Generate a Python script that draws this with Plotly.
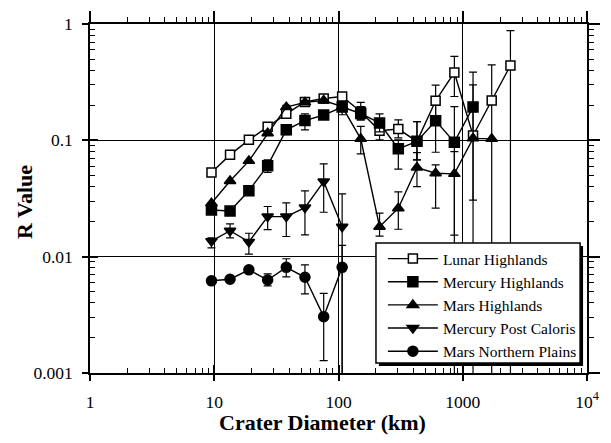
import plotly.graph_objects as go

# ---------------- data ----------------
diam = [9.5, 13.4, 19.0, 26.9, 38.0, 53.7, 76.0, 107, 151, 214, 303, 428, 605, 856, 1210, 1710, 2420]

lunar = [0.0528, 0.075, 0.101, 0.131, 0.169, 0.214, 0.229, 0.238, 0.176, 0.121, 0.125, 0.098, 0.219, 0.383, 0.110, 0.220, 0.440]
lunar_hi = [0.0528, 0.075, 0.101, 0.131, 0.175, 0.22, 0.235, 0.255, 0.212, 0.135, 0.150, 0.145, 0.298, 0.526, 0.386, 0.446, 0.876]
lunar_lo = [0.0528, 0.075, 0.101, 0.131, 0.163, 0.208, 0.222, 0.222, 0.150, 0.101, 0.105, 0.068, 0.15, 0.238, 0.0306, 0.0005, 0.0005]

merc = [0.0252, 0.0247, 0.0369, 0.0606, 0.123, 0.148, 0.165, 0.193, 0.170, 0.141, 0.0846, 0.098, 0.147, 0.0965, 0.193]
merc_hi = [0.0252, 0.0247, 0.039, 0.0679, 0.136, 0.169, 0.172, 0.215, 0.195, 0.169, 0.101, 0.145, 0.2, 0.195, 0.3]
merc_lo = [0.0252, 0.0247, 0.035, 0.0529, 0.112, 0.123, 0.158, 0.166, 0.150, 0.118, 0.0566, 0.068, 0.079, 0.0005, 0.0005]

mars = [0.0288, 0.0447, 0.0666, 0.115, 0.193, 0.212, 0.22, 0.195, 0.103, 0.0181, 0.0261, 0.0583, 0.0522, 0.0515, 0.104, 0.103]
mars_hi = [0.0288, 0.0447, 0.0666, 0.12, 0.2, 0.22, 0.225, 0.2, 0.132, 0.0237, 0.036, 0.0785, 0.0616, 0.08, 0.104, 0.103]
mars_lo = [0.0288, 0.0447, 0.0666, 0.11, 0.186, 0.205, 0.215, 0.19, 0.0765, 0.015, 0.0172, 0.040, 0.0261, 0.0153, 0.104, 0.103]

mpc = [0.0136, 0.0167, 0.0134, 0.0221, 0.0221, 0.0264, 0.0442, 0.0181]
mpc_hi = [0.0145, 0.0191, 0.0159, 0.027, 0.029, 0.0368, 0.0627, 0.0346]
mpc_lo = [0.0119, 0.0145, 0.0105, 0.0171, 0.0149, 0.0154, 0.0241, 0.0005]

mnp = [0.0062, 0.0064, 0.0077, 0.0063, 0.0081, 0.00665, 0.00305, 0.0081]
mnp_hi = [0.0062, 0.0064, 0.0081, 0.0071, 0.0096, 0.0085, 0.00484, 0.0125]
mnp_lo = [0.0062, 0.0064, 0.0073, 0.0056, 0.0067, 0.00478, 0.00128, 0.0005]

series_names = ["Lunar Highlands", "Mercury Highlands", "Mars Highlands",
                "Mercury Post Caloris", "Mars Northern Plains"]

x_tickvals = [1, 10, 100, 1000, 10000]
x_ticktext = ["1", "10", "100", "1000", "10<sup>4</sup>"]
y_tickvals = [0.001, 0.01, 0.1, 1]
y_ticktext = ["0.001", "0.01", "0.1", "1"]

x_title = "Crater Diameter (km)"
y_title = "R Value"

# ---------------- figure ----------------
FONT = "Liberation Serif"
W, H = 611, 443
ML, MR, MT, MB = 90, 17, 24, 70
PW, PH = W - ML - MR, H - MT - MB


def px2paper(px, py):
    return (px - ML) / PW, (H - MB - py) / PH


fig = go.Figure()

specs = [
    (lunar, lunar_hi, lunar_lo, "square", "white", 9),
    (merc, merc_hi, merc_lo, "square", "black", 10),
    (mars, mars_hi, mars_lo, "triangle-up", "black", 10),
    (mpc, mpc_hi, mpc_lo, "triangle-down", "black", 10),
    (mnp, mnp_hi, mnp_lo, "circle", "black", 10),
]

for name, (ys, hi, lo, sym, fill, msz) in zip(series_names, specs):
    xs = diam[:len(ys)]
    plus = [h - v for h, v in zip(hi, ys)]
    minus = [v - l for v, l in zip(ys, lo)]
    fig.add_trace(go.Scatter(
        x=xs, y=ys, name=name, mode="lines+markers",
        line=dict(color="black", width=1.4),
        marker=dict(symbol=sym, size=msz, color=fill,
                    line=dict(color="black", width=1.5)),
        error_y=dict(type="data", symmetric=False, array=plus, arrayminus=minus,
                     color="black", thickness=1.2, width=4),
    ))

minor_x = [m * 10 ** e for e in range(0, 4) for m in range(2, 10)]
minor_y = [m * 10 ** e for e in range(-3, 0) for m in range(2, 10)]

common = dict(showgrid=False, zeroline=False, color="black")

fig.update_layout(
    width=W, height=H,
    margin=dict(l=ML, r=MR, t=MT, b=MB),
    paper_bgcolor="white", plot_bgcolor="white",
    font=dict(family=FONT, color="black", size=17),
    showlegend=True,
    xaxis=dict(type="log", range=[0, 4], side="bottom",
               tickmode="array", tickvals=x_tickvals, ticktext=x_ticktext,
               ticks="inside", ticklen=8, tickwidth=1.5, tickcolor="black",
               minor=dict(tickmode="array", tickvals=minor_x, ticks="inside",
                          ticklen=5, tickwidth=1.2, tickcolor="black", showgrid=False),
               showline=True, linecolor="black", linewidth=1.5,
               showgrid=True, gridcolor="black", gridwidth=1.3, zeroline=False,
               tickfont=dict(family=FONT, size=17.5), ticklabelstandoff=12),
    yaxis=dict(type="log", range=[-3, 0], side="left",
               tickmode="array", tickvals=y_tickvals, ticktext=y_ticktext,
               ticks="inside", ticklen=8, tickwidth=1.5, tickcolor="black",
               minor=dict(tickmode="array", tickvals=minor_y, ticks="inside",
                          ticklen=5, tickwidth=1.2, tickcolor="black", showgrid=False),
               showline=True, linecolor="black", linewidth=1.5,
               showgrid=True, gridcolor="black", gridwidth=1.3, zeroline=False,
               tickfont=dict(family=FONT, size=17.5), ticklabelstandoff=12),
    xaxis2=dict(type="log", range=[0, 4], overlaying="x", anchor="y", side="bottom",
                tickmode="array", tickvals=x_tickvals, showticklabels=False,
                ticks="outside", ticklen=7, tickwidth=1.5, tickcolor="black",
                showline=False, **common),
    yaxis2=dict(type="log", range=[-3, 0], overlaying="y", anchor="x", side="left",
                tickmode="array", tickvals=y_tickvals, showticklabels=False,
                ticks="outside", ticklen=7, tickwidth=1.5, tickcolor="black",
                showline=False, **common),
    xaxis3=dict(type="log", range=[0, 4], overlaying="x", anchor="y", side="top",
                tickmode="array", tickvals=x_tickvals, showticklabels=False,
                ticks="outside", ticklen=11, tickwidth=1.5, tickcolor="black",
                minor=dict(tickmode="array", tickvals=minor_x, ticks="outside",
                           ticklen=5, tickwidth=1.2, tickcolor="black"),
                showline=True, linecolor="black", linewidth=1.5, **common),
    yaxis3=dict(type="log", range=[-3, 0], overlaying="y", anchor="x", side="right",
                tickmode="array", tickvals=y_tickvals, showticklabels=False,
                ticks="outside", ticklen=11, tickwidth=1.5, tickcolor="black",
                minor=dict(tickmode="array", tickvals=minor_y, ticks="outside",
                           ticklen=5, tickwidth=1.2, tickcolor="black"),
                showline=True, linecolor="black", linewidth=1.5, **common),
    legend=dict(x=px2paper(387, 242)[0], y=px2paper(387, 242)[1],
                xanchor="left", yanchor="top",
                bgcolor="rgba(0,0,0,0)", borderwidth=0,
                font=dict(family=FONT, size=15.5), itemwidth=50,
                tracegroupgap=0),
    annotations=[
        dict(text="<b>" + x_title + "</b>", xref="paper", yref="paper",
             x=px2paper(326, 422)[0], y=px2paper(326, 422)[1],
             xanchor="center", yanchor="middle", showarrow=False,
             font=dict(family=FONT, size=22)),
        dict(text="<b>" + y_title + "</b>", xref="paper", yref="paper",
             x=px2paper(23, 202)[0], y=px2paper(23, 202)[1],
             xanchor="center", yanchor="middle", showarrow=False, textangle=-90,
             font=dict(family=FONT, size=22)),
    ],
)

fig.add_trace(go.Scatter(x=[10], y=[0.1], xaxis="x2", yaxis="y2", mode="markers",
                         marker=dict(opacity=0), showlegend=False, hoverinfo="skip"))
fig.add_trace(go.Scatter(x=[10], y=[0.1], xaxis="x3", yaxis="y3", mode="markers",
                         marker=dict(opacity=0), showlegend=False, hoverinfo="skip"))

# legend box with drop shadow (drawn as shapes)
sx0, sy0 = px2paper(383, 246)
sx1, sy1 = px2paper(590, 366)
fig.add_shape(type="rect", xref="paper", yref="paper", x0=sx0, y0=sy1, x1=sx1, y1=sy0,
              fillcolor="black", line=dict(width=0), layer="above")
bx0, by0 = px2paper(380, 243)
bx1, by1 = px2paper(587, 363)
fig.add_shape(type="rect", xref="paper", yref="paper", x0=bx0, y0=by1, x1=bx1, y1=by0,
              fillcolor="white", line=dict(color="black", width=1.5), layer="above")

fig.write_html("out.html")
